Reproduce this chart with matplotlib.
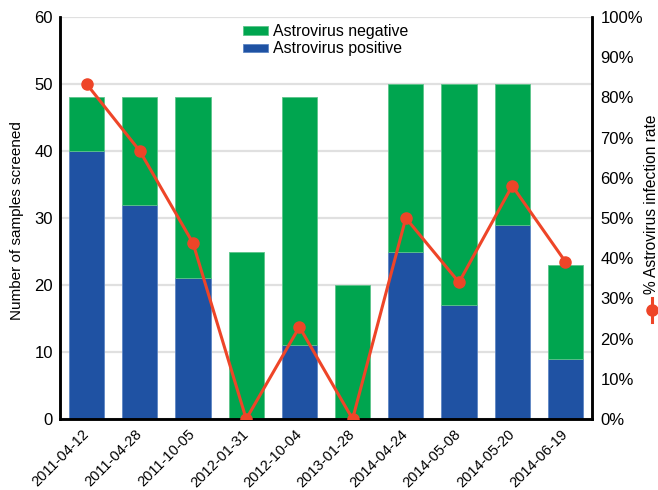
import matplotlib
matplotlib.use("Agg")
import matplotlib.pyplot as plt
from matplotlib.lines import Line2D
import numpy as np

plt.rcParams['font.family'] = ['Liberation Sans', 'DejaVu Sans']

dates = ["2011-04-12", "2011-04-28", "2011-10-05", "2012-01-31", "2012-10-04",
         "2013-01-28", "2014-04-24", "2014-05-08", "2014-05-20", "2014-06-19"]
totals = [48, 48, 48, 25, 48, 20, 50, 50, 50, 23]
positive = [40, 32, 21, 0, 11, 0, 25, 17, 29, 9]
negative = [t - p for t, p in zip(totals, positive)]
rate = [100.0 * p / t for p, t in zip(positive, totals)]

green = "#00A54F"
blue = "#1F52A3"
red = "#EE4528"

W, H = 658, 490
fig = plt.figure(figsize=(W / 100, H / 100), dpi=100)
ax = fig.add_axes([60 / W, 1 - 419 / H, (592 - 60) / W, (419 - 17) / H])

x = np.arange(len(dates))
bw = 0.66
ax.bar(x, positive, width=bw, color=blue, edgecolor="#5E86C4", linewidth=0.6,
       label="Astrovirus positive", zorder=2)
ax.bar(x, negative, bottom=positive, width=bw, color=green, edgecolor="#5CC48A",
       linewidth=0.6, label="Astrovirus negative", zorder=2)

ax.set_xlim(-0.5, len(dates) - 0.5)
ax.set_ylim(0, 60)
ax.set_yticks(range(0, 61, 10))
ax.yaxis.grid(True, color="#E0E0E0", linewidth=1.6, zorder=0)
ax.set_axisbelow(True)
ax.set_xticks(x)
ax.set_xticklabels(dates, rotation=45, ha="right", va="center",
                   rotation_mode="anchor", fontsize=10.5)
ax.tick_params(axis="both", length=0)
ax.tick_params(axis="y", pad=5, labelsize=12)
ax.tick_params(axis="x", pad=9.5)
ax.spines["top"].set_visible(False)
for s in ["left", "bottom", "right"]:
    ax.spines[s].set_linewidth(1.8)
    ax.spines[s].set_color("black")
ax.set_ylabel("Number of samples screened", fontsize=11, va="center")
ax.yaxis.set_label_coords(-43 / 532, (419 - 221) / 402)

ax2 = ax.twinx()
ax2.plot(x, rate, color=red, linewidth=2.2, marker="o", markersize=8, zorder=3)
ax2.set_ylim(0, 100)
ax2.set_yticks(range(0, 101, 10))
ax2.set_yticklabels([f"{v}%" for v in range(0, 101, 10)])
ax2.tick_params(axis="y", length=0, labelsize=12, pad=6)
ax2.spines["top"].set_visible(False)
for s in ["left", "bottom", "right"]:
    ax2.spines[s].set_linewidth(1.8)

# right axis label with legend glyph
fig.text(652 / W, 1 - 204 / H, "% Astrovirus infection rate", rotation=90,
         ha="center", va="center", fontsize=11.2)
fig.add_artist(Line2D([652 / W, 652 / W], [1 - 298 / H, 1 - 322 / H],
                      transform=fig.transFigure, color=red, linewidth=2.2))
fig.add_artist(Line2D([652 / W], [1 - 310 / H], transform=fig.transFigure,
                      color=red, marker="o", markersize=8))

h, l = ax.get_legend_handles_labels()
leg = ax.legend(h[::-1], l[::-1], loc="upper left",
                bbox_to_anchor=(232 / W, 1 - 13 / H), bbox_transform=fig.transFigure,
                frameon=False, fontsize=11.4, handlelength=1.6, handleheight=0.45,
                handletextpad=0.3, labelspacing=0.15, borderpad=0.2)

fig.savefig("out.png", dpi=100)
